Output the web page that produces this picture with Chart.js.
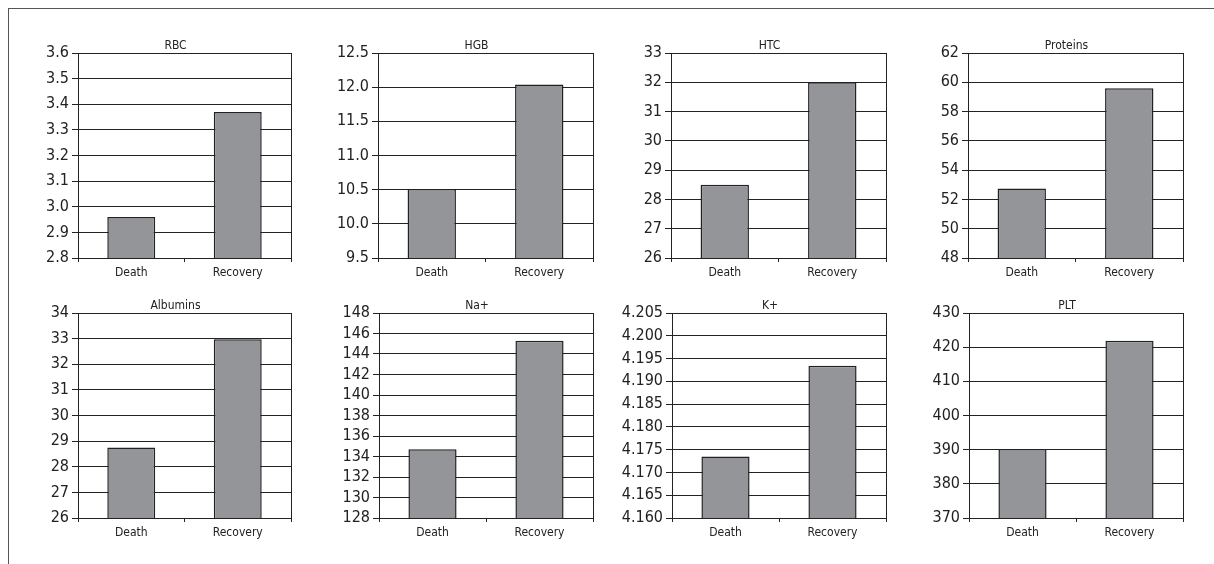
<!DOCTYPE html>
<html>
<head>
<meta charset="utf-8">
<script src="https://cdn.jsdelivr.net/npm/chart.js@4.4.1/dist/chart.umd.min.js"></script>
<style>
  html, body { margin: 0; padding: 0; background: #fff; }
  body { width: 1214px; height: 564px; position: relative; overflow: hidden; }
  #frame { position: absolute; left: 8px; top: 8px; width: 1300px; height: 600px;
           border-top: 1px solid #555; border-left: 1px solid #555; }
  canvas { position: absolute; }
</style>
</head>
<body>
<div id="frame"></div>
<script>
const categories = ['Death', 'Recovery']
const panelTitles = ['RBC', 'HGB', 'HTC', 'Proteins', 'Albumins', 'Na+', 'K+', 'PLT']
const deathValues = [2.96, 10.51, 28.5, 52.75, 28.75, 134.7, 4.1735, 390.2]
const recoveryValues = [3.37, 12.04, 32.0, 59.6, 32.98, 145.3, 4.1934, 421.9]
const axisMin = [2.8, 9.5, 26, 48, 26, 128, 4.16, 370]
const axisMax = [3.6, 12.5, 33, 62, 34, 148, 4.205, 430]
const axisStep = [0.1, 0.5, 1, 2, 1, 2, 0.005, 10]
const tickDecimals = [1, 1, 0, 0, 0, 0, 3, 0]

// layout of each plot area (px)
const plotLeft = [78, 378, 671, 968, 78, 379, 672, 969]
const plotWidth = [213, 215, 215, 215, 213, 214, 214, 214]
const plotTop = [53, 53, 53, 53, 313, 313, 313, 313]
const plotHeight = 205
const yAxisWidth = 62
const rightAxisWidth = yAxisWidth - 18 // keeps the title a bit left of the plot centre
const xAxisHeight = 30
const titleHeight = 19
const ink = '#222'
const font = "'DejaVu Sans Condensed', 'Liberation Sans Narrow', sans-serif"

panelTitles.forEach((title, i) => {
  const canvas = document.createElement('canvas')
  canvas.width = yAxisWidth + plotWidth[i] + rightAxisWidth
  canvas.height = titleHeight + plotHeight + xAxisHeight
  canvas.style.left = (plotLeft[i] - yAxisWidth) + 'px'
  canvas.style.top = (plotTop[i] - titleHeight) + 'px'
  document.body.appendChild(canvas)

  new Chart(canvas.getContext('2d'), {
    type: 'bar',
    data: {
      labels: categories,
      datasets: [{
        data: [deathValues[i], recoveryValues[i]],
        backgroundColor: '#939598',
        borderColor: ink,
        borderWidth: 1.5,
        categoryPercentage: 1,
        barPercentage: 0.45
      }]
    },
    options: {
      responsive: false,
      animation: false,
      devicePixelRatio: 1,
      layout: { padding: 0 },
      plugins: {
        legend: { display: false },
        tooltip: { enabled: false },
        title: {
          display: true,
          text: title,
          color: ink,
          font: { family: font, size: 12, weight: 'normal', lineHeight: 1 },
          padding: { top: 6, bottom: 1 }
        }
      },
      scales: {
        x: {
          afterFit(scale) { scale.height = xAxisHeight },
          grid: { offset: true, drawOnChartArea: false, drawTicks: true, tickLength: 4, color: ink },
          border: { display: true, color: ink, width: 1 },
          ticks: { color: ink, padding: 4, font: { family: font, size: 12 } }
        },
        y: {
          min: axisMin[i],
          max: axisMax[i],
          afterFit(scale) { scale.width = yAxisWidth },
          grid: { color: ink, lineWidth: 1, tickLength: 6 },
          border: { display: true, color: ink, width: 1 },
          ticks: {
            stepSize: axisStep[i],
            autoSkip: false,
            color: ink,
            padding: 3,
            font: { family: font, size: 16 },
            callback: v => Number(v).toFixed(tickDecimals[i])
          }
        },
        // empty right axis: draws the right edge of the plot frame
        yRight: {
          position: 'right',
          min: axisMin[i],
          max: axisMax[i],
          afterFit(scale) { scale.width = rightAxisWidth },
          grid: { display: false },
          border: { display: true, color: ink, width: 1 },
          ticks: { display: false }
        }
      }
    }
  })
})
</script>
</body>
</html>
